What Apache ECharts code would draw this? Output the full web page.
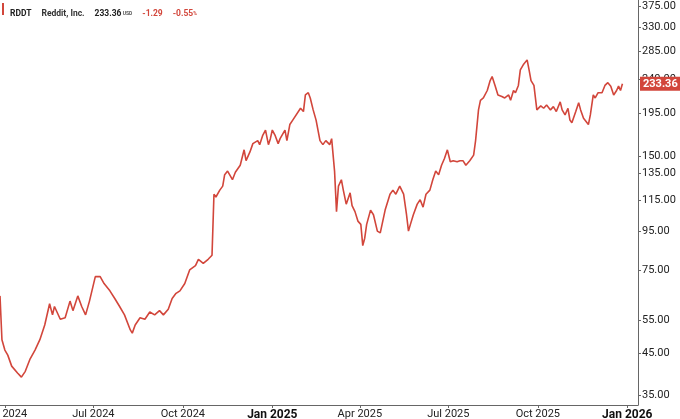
<!DOCTYPE html>
<html><head><meta charset="utf-8">
<script src="https://cdn.jsdelivr.net/npm/echarts@6/dist/echarts.min.js"></script>
<style>html,body{margin:0;padding:0;background:#fff}#c{width:680px;height:419px}</style>
</head><body><div id="c"></div>
<script>
const dates = ["2024-03-27","2024-03-29","2024-04-01","2024-04-04","2024-04-08","2024-04-14","2024-04-18","2024-04-22","2024-04-27","2024-05-02","2024-05-07","2024-05-12","2024-05-17","2024-05-20","2024-05-22","2024-05-28","2024-06-02","2024-06-07","2024-06-10","2024-06-15","2024-06-19","2024-06-23","2024-06-27","2024-07-03","2024-07-08","2024-07-12","2024-07-18","2024-07-23","2024-07-28","2024-08-02","2024-08-08","2024-08-10","2024-08-13","2024-08-18","2024-08-23","2024-08-28","2024-09-02","2024-09-07","2024-09-11","2024-09-16","2024-09-20","2024-09-24","2024-09-28","2024-10-03","2024-10-08","2024-10-14","2024-10-17","2024-10-22","2024-10-27","2024-10-31","2024-11-02","2024-11-04","2024-11-08","2024-11-11","2024-11-13","2024-11-16","2024-11-21","2024-11-24","2024-11-29","2024-12-03","2024-12-05","2024-12-09","2024-12-12","2024-12-17","2024-12-19","2024-12-22","2024-12-25","2024-12-28","2024-12-30","2025-01-01","2025-01-04","2025-01-07","2025-01-09","2025-01-14","2025-01-16","2025-01-19","2025-01-22","2025-01-24","2025-01-30","2025-02-02","2025-02-04","2025-02-07","2025-02-09","2025-02-12","2025-02-15","2025-02-19","2025-02-22","2025-02-25","2025-03-01","2025-03-03","2025-03-06","2025-03-08","2025-03-10","2025-03-13","2025-03-15","2025-03-18","2025-03-22","2025-03-24","2025-03-27","2025-03-30","2025-04-02","2025-04-04","2025-04-06","2025-04-08","2025-04-12","2025-04-15","2025-04-19","2025-04-22","2025-04-27","2025-05-02","2025-05-05","2025-05-08","2025-05-12","2025-05-16","2025-05-19","2025-05-21","2025-05-23","2025-05-26","2025-05-30","2025-06-02","2025-06-05","2025-06-08","2025-06-12","2025-06-15","2025-06-18","2025-06-21","2025-06-24","2025-06-27","2025-06-30","2025-07-03","2025-07-06","2025-07-10","2025-07-13","2025-07-16","2025-07-19","2025-07-23","2025-07-27","2025-07-29","2025-08-01","2025-08-03","2025-08-06","2025-08-10","2025-08-13","2025-08-15","2025-08-18","2025-08-21","2025-08-25","2025-08-28","2025-09-01","2025-09-03","2025-09-06","2025-09-08","2025-09-11","2025-09-13","2025-09-16","2025-09-18","2025-09-20","2025-09-22","2025-09-24","2025-09-27","2025-09-30","2025-10-04","2025-10-07","2025-10-10","2025-10-14","2025-10-17","2025-10-20","2025-10-24","2025-10-26","2025-10-29","2025-11-01","2025-11-03","2025-11-05","2025-11-09","2025-11-12","2025-11-14","2025-11-17","2025-11-19","2025-11-22","2025-11-24","2025-11-27","2025-11-29","2025-12-02","2025-12-06","2025-12-09","2025-12-12","2025-12-15","2025-12-18","2025-12-21","2025-12-23","2025-12-25","2025-12-27"];
const prices = [64,49,46,44.6,41.7,40,39,40.4,43.6,46,49,53.6,61,57,60,55.5,56,62,58.5,64,60,57,62,72,72,69,66,63,60,57,52,51,53.6,56,55.5,58,57,58.5,57,59,63,65,66,69,75,77,80,78,80,82,119,117,122,125,134,137,130,136,142,156,146,154,162,165,161,170,176,161,167,176,170,162,167,176,165,182,187,185,201,197,218,221,214,199,187,165,161,165,161,167,137,107,125,130,122,112,120,111,107,101,99,87,91,99,108,105,95,94,108,119,122,119,125,119,105,95,99,105,112,115,110,119,122,130,137,134,142,148,156,145,146,145,146,146,142,146,151,165,199,211,214,224,238,244,231,218,216,214,218,211,224,221,231,254,262,265,270,254,238,231,199,204,201,205,199,203,197,209,199,193,201,187,184,197,208,199,189,187,182,193,218,214,221,221,231,235,230,218,224,230,224,233.36];
const yTicks = [35,45,55,75,95,115,135,150,195,240,285,330,375];
const xTicks = ["2024-04-01","2024-07-01","2024-10-01","2025-01-01","2025-04-01","2025-07-01","2025-10-01","2026-01-01"];
const lastPrice = 233.36;
const MON = ["Jan","Feb","Mar","Apr","May","Jun","Jul","Aug","Sep","Oct","Nov","Dec"];
const RED = "#d2463b";
const ts = d => Date.parse(d + 'T00:00:00Z');
const xTickTs = xTicks.map(ts);
const chart = echarts.init(document.getElementById('c'), null, {renderer:'canvas'});
chart.setOption({
  animation:false,
  grid:{left:0,right:42,top:0,bottom:14,containLabel:false,outerBoundsMode:'none'},
  title:{left:4,top:3,text:"{b|RDDT}  {n|Reddit, Inc.}  {p|233.36}{u| USD}  {r|-1.29}  {r|-0.55}{rs|%}",
    textStyle:{rich:{b:{fontSize:8.5,fontWeight:'bold',color:'#222',fontFamily:'Roboto'},n:{fontSize:8.5,fontWeight:'bold',color:'#333',fontFamily:'Roboto'},p:{fontSize:8.5,fontWeight:'bold',color:'#222',fontFamily:'Roboto'},u:{fontSize:5,color:'#555',fontFamily:'Roboto'},r:{fontSize:8.5,color:RED,fontFamily:'Roboto'},rs:{fontSize:5,color:RED,fontFamily:'Roboto'}}},
    backgroundColor:'#fff',padding:[2,4,2,6]},
  graphic:[{type:'rect',shape:{x:2,y:3,width:2,height:12},style:{fill:RED}}],
  xAxis:{type:'value',min:ts('2024-03-27'),max:ts('2026-01-12'),
    axisLine:{show:true,lineStyle:{color:'#666',width:1}},
    axisTick:{show:true,customValues:xTickTs,length:3,lineStyle:{color:'#666'}},
    splitLine:{show:false},
    axisLabel:{customValues:xTickTs,fontSize:11,color:'#222',fontFamily:'Roboto',margin:4,hideOverlap:false,showMinLabel:true,showMaxLabel:true,
      formatter:function(v){const d=new Date(v);const m=d.getUTCMonth();const s=MON[m]+' '+d.getUTCFullYear();return m===0?'{j|'+s+'}':s;},
      rich:{j:{fontWeight:'bold',fontSize:12,color:'#111',fontFamily:'Roboto'}}}},
  yAxis:{type:'log',min:32.9,max:389,position:'right',
    axisLine:{show:true,lineStyle:{color:'#666',width:1}},
    axisTick:{show:true,customValues:yTicks,length:3,inside:false,lineStyle:{color:'#666'}},
    splitLine:{show:false},
    axisLabel:{customValues:yTicks,fontSize:11,color:'#222',fontFamily:'Roboto',margin:4,formatter:v=>v.toFixed(2)}},
  series:[{type:'line',data:dates.map((d,i)=>[ts(d),prices[i]]),showSymbol:false,symbol:'none',clip:false,
    lineStyle:{color:RED,width:1.6},
    markLine:{silent:true,symbol:'none',lineStyle:{color:'rgba(0,0,0,0)',width:0},data:[{yAxis:lastPrice}],
      label:{show:true,position:'end',distance:2,formatter:lastPrice.toFixed(2),backgroundColor:RED,color:'#fff',fontWeight:'bold',fontSize:11,fontFamily:'Roboto',padding:[2,3,1,3]}}}]
});
</script></body></html>
